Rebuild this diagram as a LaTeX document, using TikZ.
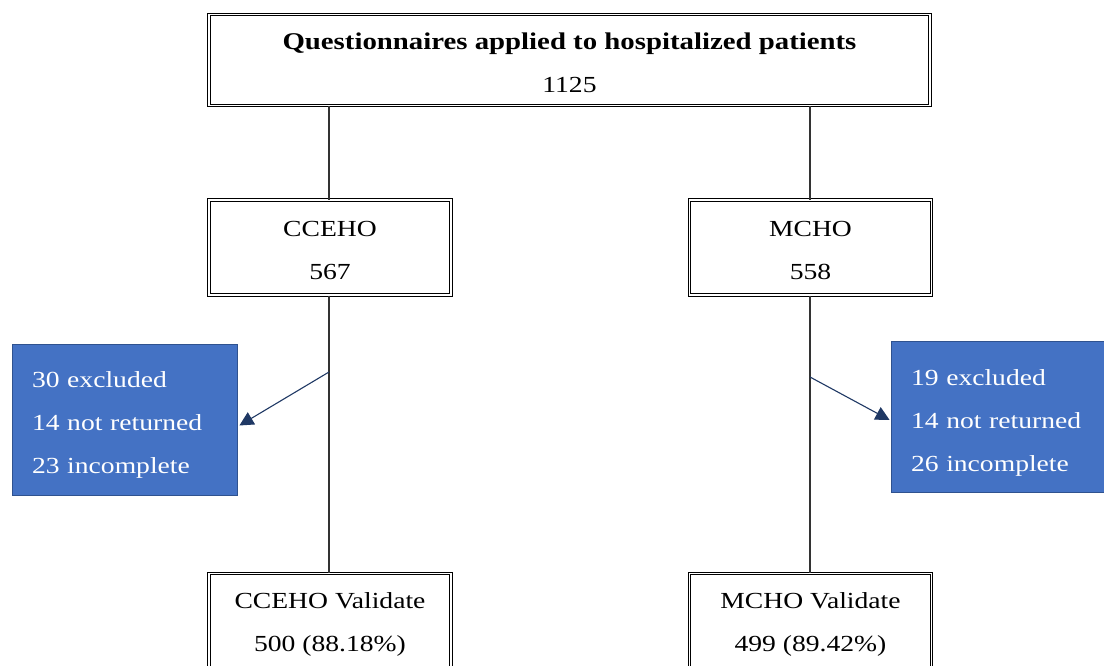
\documentclass[tikz,border=0pt]{standalone}
\usepackage{fontspec}
\setmainfont{Liberation Serif}[FakeStretch=1.2]
\usepackage{xcolor}
\usetikzlibrary{arrows.meta,positioning,calc}

\definecolor{exclblue}{HTML}{4472C4}
\definecolor{excledge}{HTML}{2F528F}
\definecolor{arrownavy}{HTML}{1F3864}

\begin{document}
\begin{tikzpicture}[
    x=1pt, y=-1pt,
    stagebox/.style={rectangle, draw=black, double, double distance=1.6pt, line width=1pt,
        align=center, font=\fontsize{23}{43}\selectfont, inner sep=0pt, text height=65pt},
    exclbox/.style={rectangle, draw=excledge, fill=exclblue, text=white, line width=0.8pt,
        align=left, font=\fontsize{23}{43}\selectfont, inner xsep=20pt, inner ysep=0pt,
        text width=185pt, text height=27pt, minimum height=151pt},
    flow/.style={line width=1.4pt, black!80},
    exclarrow/.style={line width=1.1pt, arrownavy, -{Triangle[length=14pt, width=14pt]}}
]
    \clip (0,0) rectangle (1104,665);
    \useasboundingbox (0,0) rectangle (1104,665);

    % Total
    \node[stagebox, minimum width=721pt, minimum height=91pt] (total) at (569.5,60)
        {{\fontsize{24}{43}\selectfont\bfseries Questionnaires applied to hospitalized patients}\\1125};

    % Hospitals
    \node[stagebox, minimum width=242pt, minimum height=95pt] (cceho) at (330,247.5) {CCEHO\\567};
    \node[stagebox, minimum width=242pt, minimum height=95pt] (mcho) at (810.5,247.5) {MCHO\\558};

    % Validated questionnaires
    \node[stagebox, minimum width=242pt, minimum height=95pt, anchor=north] (ccehoval) at (330,573)
        {CCEHO Validate\\500 (88.18\%)};
    \node[stagebox, minimum width=242pt, minimum height=95pt, anchor=north] (mchoval) at (810.5,573)
        {MCHO Validate\\499 (89.42\%)};

    % Losses
    \node[exclbox] (ccehoexcl) at (124.5,419.5) {30 excluded\\14 not returned\\23 incomplete};
    \node[exclbox] (mchoexcl) at (1003.5,417) {19 excluded\\14 not returned\\26 incomplete};

    % Connectors
    \draw[flow] ([xshift=-1pt]total.south -| cceho.north) -- ([xshift=-1pt]cceho.north);
    \draw[flow] ([xshift=-0.5pt]total.south -| mcho.north) -- ([xshift=-0.5pt]mcho.north);
    \draw[flow] ([xshift=-1pt]cceho.south) -- ([xshift=-1pt]ccehoval.north);
    \draw[flow] ([xshift=-0.5pt]mcho.south) -- ([xshift=-0.5pt]mchoval.north);

    \coordinate (ccehosplit) at (329,372);
    \coordinate (mchosplit) at (810,377);
    \draw[exclarrow] (ccehosplit) -- ($(ccehoexcl.east)+(2,6)$);
    \draw[exclarrow] (mchosplit) -- ($(mchoexcl.west)+(-1,3)$);
\end{tikzpicture}
\end{document}
